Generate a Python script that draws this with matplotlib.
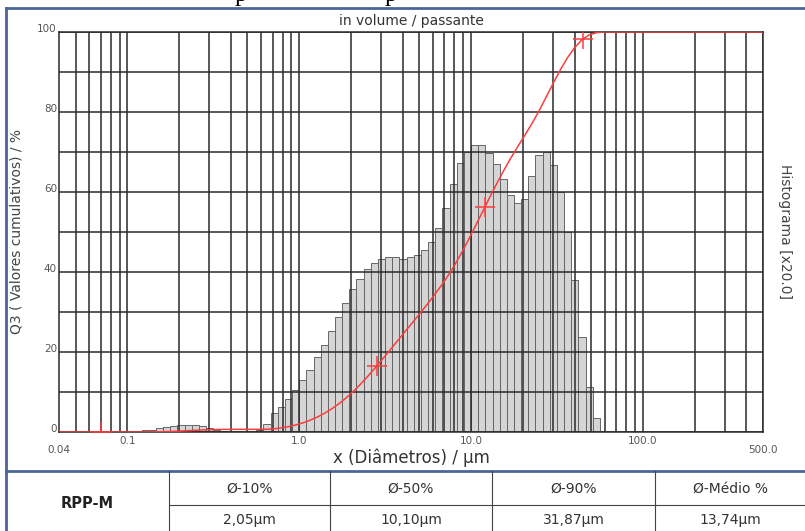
import matplotlib.pyplot as plt
import numpy as np
from matplotlib.ticker import NullFormatter

# 粒度分级：每十倍程24级，从0.1 µm到约56 µm
class_edges = 10 ** (np.arange(-24, 43) / 24)

# 各级直方图高度（已乘20倍）
hist_values = [
    0.1, 0.2, 0.4, 0.6, 0.9, 1.2, 1.5, 1.8, 1.8, 1.7, 1.4, 0.9, 0.5, 0.25, 0.1,
    0, 0, 0, 0.5,
    1.9, 4.7, 6.3, 8.2, 10.5, 13.0, 15.5, 18.7, 21.8, 25.3,
    28.7, 32.2, 35.7, 38.2, 40.7, 42.2, 43.3, 43.8, 43.8, 43.3,
    43.8, 44.3, 45.6, 47.6, 50.9, 55.9, 62.0, 67.2, 70.1, 71.8,
    71.8, 69.7, 66.9, 63.2, 59.3, 57.2, 58.3, 64.0, 69.3, 70.1,
    66.8, 60.1, 50.1, 38.0, 23.8, 11.3, 3.4,
]

# 曲线上的标记位置
marker_x = [0.07, 2.83, 12.0, 44.8]

# 坐标轴刻度
major_ticks = [0.1, 1, 10, 100]
major_labels = ['0.1', '1.0', '10.0', '100.0']
y_major = [0, 20, 40, 60, 80, 100]
y_minor = [10, 30, 50, 70, 90]

# 下方表格
sample_name = 'RPP-M'
stat_labels = ['Ø-10%', 'Ø-50%', 'Ø-90%', 'Ø-Médio %']
stat_values = ['2,05µm', '10,10µm', '31,87µm', '13,74µm']

hist = np.array(hist_values)

# 累积曲线：由直方图累加并归一化
q3 = np.concatenate([[0], np.cumsum(hist)]) / hist.sum() * 100
curve_x = np.concatenate([[0.04], class_edges * 10 ** (1 / 48), [500]])
curve_y = np.concatenate([[0], q3, [100]])
marker_y = np.interp(np.log10(marker_x), np.log10(curve_x), curve_y)

fig = plt.figure(figsize=(8.05, 5.31), dpi=100)

# 外框和表格用像素坐标画
frame = fig.add_axes([0, 0, 1, 1])
frame.set_xlim(0, 805)
frame.set_ylim(531, 0)
frame.axis('off')

blue = '#4a6698'
frame.plot([6, 6], [8, 531], color=blue, lw=2)
frame.plot([6, 805], [8, 8], color=blue, lw=2)
frame.plot([6, 805], [471, 471], color=blue, lw=2)
for xv in [169, 330, 492, 655]:
    frame.plot([xv, xv], [471, 531], color='#444444', lw=0.8)
frame.plot([169, 805], [505, 505], color='#444444', lw=0.8)

frame.text(87.5, 504, sample_name, ha='center', va='center',
           fontsize=10.5, fontweight='bold', color='#222222')
col_centers = [249.5, 411, 573.5, 730]
for cx, lab, val in zip(col_centers, stat_labels, stat_values):
    frame.text(cx, 489, lab, ha='center', va='center', fontsize=10, color='#333333')
    frame.text(cx, 520, val, ha='center', va='center', fontsize=10, color='#333333')

# 页面顶部被截掉的文字
for px in [241, 391]:
    frame.text(px, 1, 'p', ha='center', va='baseline', fontsize=18,
               family='Liberation Serif', color='black')

# 主图
ax = fig.add_axes([59 / 805, 1 - 432 / 531, 704 / 805, 400 / 531])
ax.bar(class_edges[:-1], hist, width=np.diff(class_edges), align='edge',
       color='#d5d5d5', edgecolor='#666666', linewidth=0.7, zorder=1)
ax.plot(curve_x, curve_y, color='#ff3c3c', lw=1.1, zorder=4)
ax.plot(marker_x, marker_y, ls='none', marker='+', ms=14, mew=1.1,
        color='#ff3c3c', zorder=4)

ax.set_xscale('log')
ax.set_xlim(0.04, 500)
ax.set_ylim(0, 100)

grid_x = [m * 10.0 ** d for d in range(-2, 3) for m in range(1, 10)]
grid_x = [g for g in grid_x if 0.04 < g <= 500 and g not in major_ticks]
ax.set_xticks(major_ticks, major_labels)
ax.set_xticks(grid_x, minor=True)
ax.xaxis.set_minor_formatter(NullFormatter())
ax.set_yticks(y_major)
ax.set_yticks(y_minor, minor=True)

ax.set_axisbelow(False)
ax.grid(True, which='both', color='#2a2a2a', lw=1.1)
ax.tick_params(which='both', length=0)
ax.tick_params(axis='x', pad=3, labelsize=7.5, labelcolor='#555555')
ax.tick_params(axis='y', pad=1.5, labelsize=7.5, labelcolor='#555555')
for lab in ax.get_yticklabels():
    lab.set_va('baseline')
for s in ax.spines.values():
    s.set_color('#2a2a2a')
    s.set_linewidth(1.1)

for xv, t in [(0.04, '0.04'), (500, '500.0')]:
    ax.text(xv, -0.045, t, transform=ax.get_xaxis_transform(), ha='center',
            va='center', fontsize=7.5, color='#555555')

ax.set_title('in volume / passante', fontsize=10, color='#333333', pad=5)
ax.set_xlabel('x (Diâmetros) / µm', fontsize=12, color='#333333', labelpad=2)
ax.set_ylabel('Q3 ( Valores cumulativos) / %', fontsize=10, color='#444444', labelpad=10)
ax.text(1.031, 0.5, 'Histograma [x20.0]', rotation=270, transform=ax.transAxes,
        ha='center', va='center', fontsize=10, color='#444444')

plt.savefig('out.png', dpi=100)
